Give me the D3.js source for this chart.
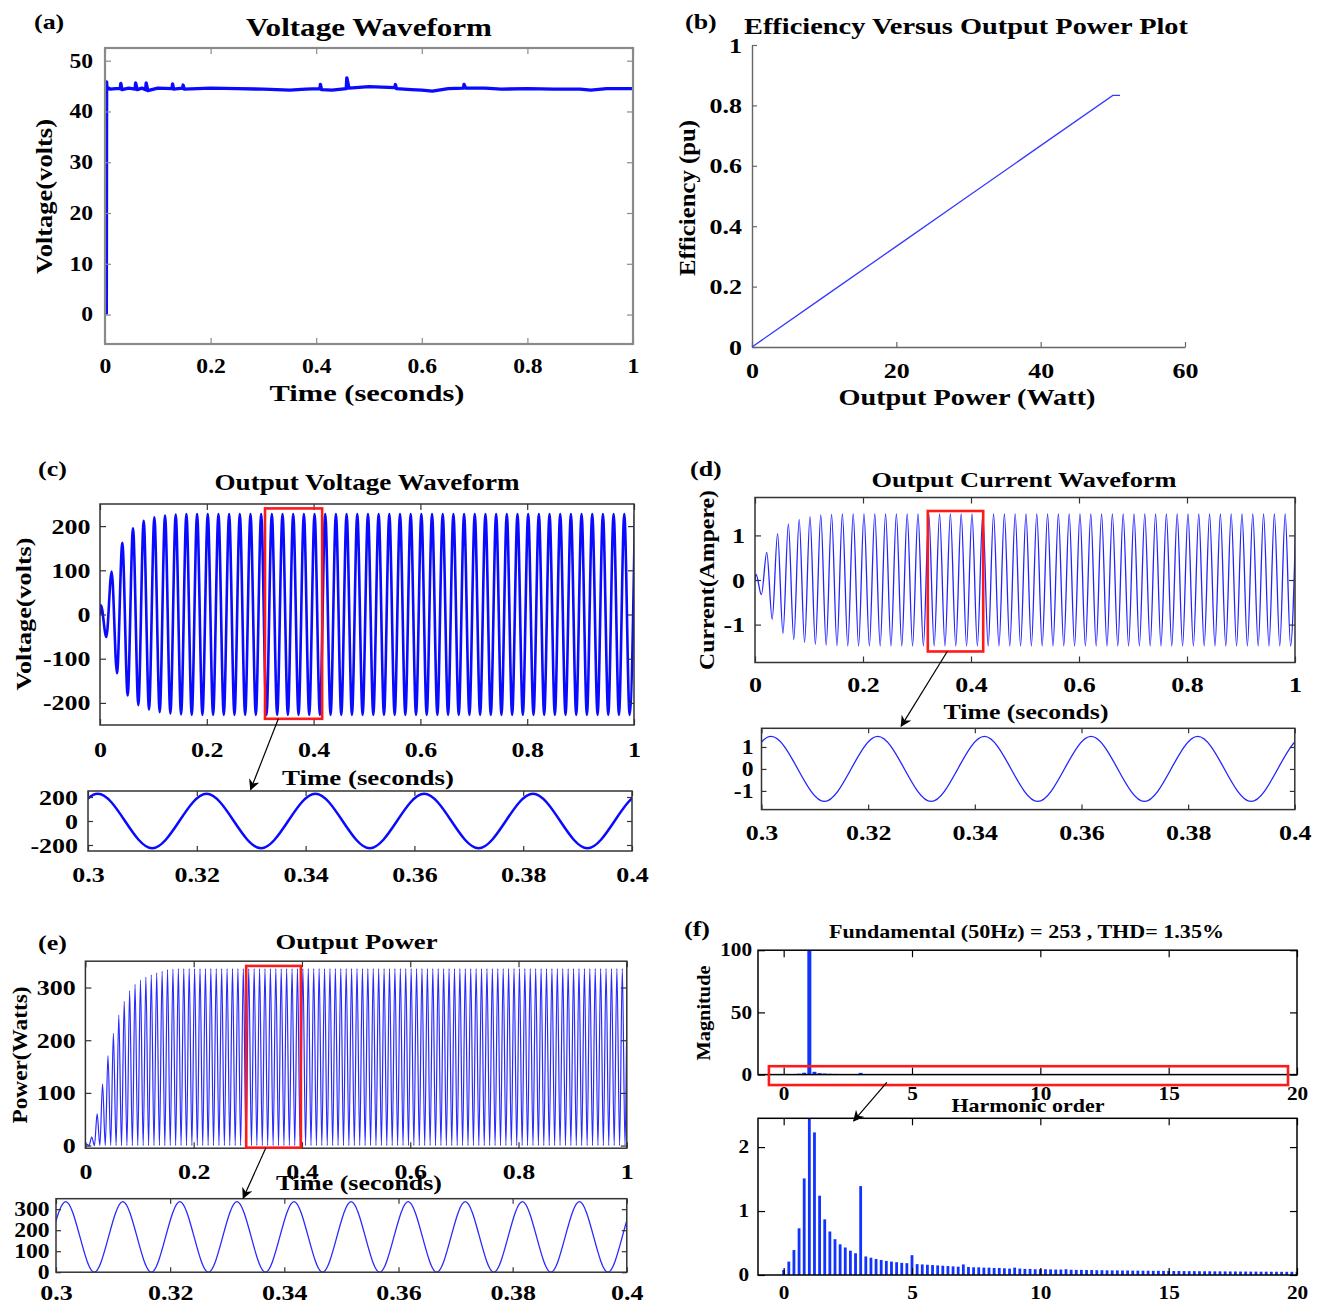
<!DOCTYPE html>
<html>
<head>
<meta charset="utf-8">
<script src="https://cdn.jsdelivr.net/npm/d3@7"></script>
<style>
  body { margin: 0; background: #fff; }
  svg text { font-family: "Liberation Serif", "Times New Roman", serif; font-weight: bold; fill: #000; }
</style>
</head>
<body>
<script>
var width = 1320, height = 1305;
var STRETCH = 1.18; // the figure's lettering is wider than plain Times

// (a) input (DC) voltage
var voltA_t = [0.0025, 0.003, 0.004, 0.006, 0.01, 0.02, 0.029, 0.03, 0.032, 0.045,
  0.057, 0.058, 0.061, 0.07, 0.077, 0.078, 0.081, 0.1, 0.127, 0.128,
  0.13, 0.147, 0.148, 0.15, 0.2, 0.25, 0.3, 0.35, 0.38, 0.407,
  0.408, 0.41, 0.43, 0.457, 0.458, 0.462, 0.5, 0.549, 0.55, 0.552,
  0.58, 0.6, 0.62, 0.65, 0.679, 0.68, 0.683, 0.72, 0.75, 0.8,
  0.85, 0.9, 0.92, 0.95, 1];
var voltA_v = [0, 45.8, 44.3, 44.6, 44.4, 44.5, 44.5, 45.5, 44.3, 44.6,
  44.4, 45.6, 44.3, 44.6, 44.3, 45.6, 44.1, 44.6, 44.5, 45.4,
  44.4, 44.6, 45.2, 44.4, 44.6, 44.5, 44.4, 44.2, 44.4, 44.5,
  45.3, 44.3, 44.2, 44.5, 46.6, 44.6, 44.9, 44.7, 45.3, 44.5,
  44.3, 44.2, 44.0, 44.5, 44.6, 45.3, 44.6, 44.6, 44.4, 44.5,
  44.4, 44.4, 44.2, 44.5, 44.5];

// (b) efficiency vs output power
var effPower = [0, 10, 20, 30, 40, 50, 51];
var effValue = [0, 0.1667, 0.3333, 0.5, 0.6667, 0.8333, 0.8333];

// (c) output voltage: successive half-cycle peaks (V), one every 10 ms from t = 1.8 ms
var voltExt = [21, -51, 97, -133, 162, -183, 195, -205, 212, -215,
  220, -221, 224, -224, 226, -226, 227, -227, 227, -227,
  227, -227, 227, -227, 227, -227, 227, -227, 227, -227,
  227, -227, 227, -227, 227, -227, 227, -227, 227, -227,
  227, -227, 227, -227, 227, -227, 227, -227, 227, -227,
  227, -227, 227, -227, 227, -227, 227, -227, 227, -227,
  227, -227, 227, -227, 227, -227, 227, -227, 227, -227,
  227, -227, 227, -227, 227, -227, 227, -227, 227, -227,
  227, -227, 227, -227, 227, -227, 227, -227, 227, -227,
  227, -227, 227, -227, 227, -227, 227, -227, 227, -227,
  227];

// (d) output current: half-cycle peaks (A), same timing
var currExt = [0.13, -0.33, 0.62, -0.88, 1.04, -1.2, 1.26, -1.34, 1.36, -1.4,
  1.42, -1.44, 1.46, -1.46, 1.47, -1.47, 1.48, -1.48, 1.48, -1.48,
  1.48, -1.48, 1.48, -1.48, 1.48, -1.48, 1.48, -1.48, 1.48, -1.48,
  1.48, -1.48, 1.48, -1.48, 1.48, -1.48, 1.48, -1.48, 1.48, -1.48,
  1.48, -1.48, 1.48, -1.48, 1.48, -1.48, 1.48, -1.48, 1.48, -1.48,
  1.48, -1.48, 1.48, -1.48, 1.48, -1.48, 1.48, -1.48, 1.48, -1.48,
  1.48, -1.48, 1.48, -1.48, 1.48, -1.48, 1.48, -1.48, 1.48, -1.48,
  1.48, -1.48, 1.48, -1.48, 1.48, -1.48, 1.48, -1.48, 1.48, -1.48,
  1.48, -1.48, 1.48, -1.48, 1.48, -1.48, 1.48, -1.48, 1.48, -1.48,
  1.48, -1.48, 1.48, -1.48, 1.48, -1.48, 1.48, -1.48, 1.48, -1.48,
  1.48];

// (e) output power: peak of each 10 ms cycle (W), troughs are 0
var powPeak = [3, 16, 60, 117, 171, 213, 248, 274, 294, 306,
  314, 320, 324, 328, 331, 334, 335, 336, 336, 336,
  336, 336, 336, 336, 336, 336, 336, 336, 336, 336,
  336, 336, 336, 336, 336, 336, 336, 336, 336, 336,
  336, 336, 336, 336, 336, 336, 336, 336, 336, 336,
  336, 336, 336, 336, 336, 336, 336, 336, 336, 336,
  336, 336, 336, 336, 336, 336, 336, 336, 336, 336,
  336, 336, 336, 336, 336, 336, 336, 336, 336, 336,
  336, 336, 336, 336, 336, 336, 336, 336, 336, 336,
  336, 336, 336, 336, 336, 336, 336, 336, 336, 336,
  336];
var powTrough = 0;

// (f) FFT spectrum, % of fundamental, orders 0, 0.2, ... 20
var harmMag = [0.08, 0.21, 0.39, 0.73, 1.51, 100, 2.23, 1.24, 0.87, 0.68,
  0.56, 0.48, 0.43, 0.38, 0.34, 1.39, 0.29, 0.27, 0.25, 0.235,
  0.22, 0.21, 0.2, 0.19, 0.185, 0.31, 0.17, 0.165, 0.16, 0.155,
  0.15, 0.145, 0.14, 0.135, 0.13, 0.165, 0.125, 0.12, 0.12, 0.115,
  0.115, 0.11, 0.11, 0.105, 0.1, 0.115, 0.1, 0.095, 0.095, 0.09,
  0.09, 0.09, 0.088, 0.085, 0.085, 0.09, 0.082, 0.08, 0.08, 0.078,
  0.078, 0.075, 0.075, 0.073, 0.072, 0.072, 0.07, 0.07, 0.068, 0.068,
  0.067, 0.066, 0.065, 0.065, 0.064, 0.064, 0.062, 0.062, 0.061, 0.06,
  0.06, 0.059, 0.058, 0.058, 0.057, 0.057, 0.056, 0.055, 0.055, 0.054,
  0.054, 0.053, 0.053, 0.052, 0.052, 0.051, 0.051, 0.05, 0.05, 0.05,
  0.05];
var harmOrder = d3.range(harmMag.length).map(function (i) { return i * 0.2; });

// tick labels
var timeTicks = [0, 0.2, 0.4, 0.6, 0.8, 1];
var zoomTicks = [0.3, 0.32, 0.34, 0.36, 0.38, 0.4];
var voltATicks = [0, 10, 20, 30, 40, 50];
var effXTicks = [0, 20, 40, 60];
var effYTicks = [0, 0.2, 0.4, 0.6, 0.8, 1];
var voltTicks = [-200, -100, 0, 100, 200];
var voltZoomTicks = [-200, 0, 200];
var currTicks = [-1, 0, 1];
var powTicks = [0, 100, 200, 300];
var harmTicks = [0, 5, 10, 15, 20];
var magTicks = [0, 50, 100];
var magZoomTicks = [0, 1, 2];

var svg = d3.select("body").append("svg").attr("width", width).attr("height", height);
svg.append("rect").attr("width", width).attr("height", height).attr("fill", "#fff");

svg.append("defs").append("marker")
    .attr("id", "arrow").attr("viewBox", "0 0 10 10")
    .attr("refX", 9).attr("refY", 5)
    .attr("markerWidth", 11).attr("markerHeight", 11)
    .attr("markerUnits", "userSpaceOnUse").attr("orient", "auto")
  .append("path").attr("d", "M0,0 L10,5 L0,10 L3,5 Z").attr("fill", "#000");

var fmt = function (d) { return String(Math.round(d * 1000) / 1000); };
var clipN = 0;

// MATLAB-like boxed axes with inward ticks on the four sides
function panel(o) {
  var g = svg.append("g").attr("transform", "translate(" + o.left + "," + o.top + ")");
  var x = d3.scaleLinear().domain(o.xDomain).range([0, o.w]);
  var y = d3.scaleLinear().domain(o.yDomain).range([o.h, 0]);
  var id = "clip" + (clipN++);
  g.append("clipPath").attr("id", id).append("rect").attr("width", o.w).attr("height", o.h);
  var plot = g.append("g").attr("clip-path", "url(#" + id + ")");
  var ts = o.tick || 6;
  var color = o.frame || "#333";

  var axB = g.append("g").attr("transform", "translate(0," + o.h + ")")
      .call(d3.axisBottom(x).tickValues(o.xTicks).tickFormat(fmt).tickSize(-ts));
  var axL = g.append("g")
      .call(d3.axisLeft(y).tickValues(o.yTicks).tickFormat(fmt).tickSize(-ts));
  g.append("g").call(d3.axisTop(x).tickValues(o.xTicks).tickFormat("").tickSize(-ts));
  g.append("g").attr("transform", "translate(" + o.w + ",0)")
      .call(d3.axisRight(y).tickValues(o.yTicks).tickFormat("").tickSize(-ts));
  g.selectAll(".domain").remove();
  g.selectAll(".tick line").attr("stroke", color).attr("stroke-width", 1.2);
  axB.selectAll("text").attr("y", o.xLab).attr("dy", null)
      .style("font-size", (o.fsX || o.fs) + "px");
  axL.selectAll("text").attr("x", -o.yPad)
      .style("font-size", (o.fsY || o.fs) + "px");
  g.append("rect").attr("width", o.w).attr("height", o.h).attr("fill", "none")
      .attr("stroke", color).attr("stroke-width", o.frameW || 1.5);
  return { g: g, x: x, y: y, plot: plot, o: o };
}

function addText(str, x, y, size, len, rotate, anchor) {
  var t = svg.append("text").text(str).style("font-size", size + "px")
      .attr("text-anchor", anchor || "middle");
  if (rotate) t.attr("transform", "translate(" + x + "," + y + ") rotate(-90)");
  else t.attr("x", x).attr("y", y);
  if (len) t.attr("textLength", len).attr("lengthAdjust", "spacingAndGlyphs").classed("fixed", true);
  return t;
}

function redBox(p, xs, ys) {
  p.g.append("rect")
      .attr("x", p.x(xs[0])).attr("y", p.y(ys[1]))
      .attr("width", p.x(xs[1]) - p.x(xs[0]))
      .attr("height", p.y(ys[0]) - p.y(ys[1]))
      .attr("fill", "none").attr("stroke", "#ff1a1a").attr("stroke-width", 2.6);
}

function arrow(pFrom, from, pTo, to) {
  svg.append("line")
      .attr("x1", pFrom.o.left + pFrom.x(from[0])).attr("y1", pFrom.o.top + pFrom.y(from[1]))
      .attr("x2", pTo.o.left + pTo.x(to[0])).attr("y2", pTo.o.top + pTo.y(to[1]))
      .attr("stroke", "#000").attr("stroke-width", 1.2)
      .attr("marker-end", "url(#arrow)");
}

function wave(p, data, color, w, curve) {
  p.plot.append("path").datum(data)
      .attr("fill", "none").attr("stroke", color).attr("stroke-width", w)
      .attr("stroke-linejoin", "round")
      .attr("d", d3.line()
          .x(function (d) { return p.x(d[0]); })
          .y(function (d) { return p.y(d[1]); })
          .curve(curve || d3.curveMonotoneX));
}

// series tables built from the arrays above
var voltA = voltA_t.map(function (t, i) { return [t, voltA_v[i]]; });
var voltSeries = [[0, 0]].concat(voltExt.map(function (v, i) { return [0.0018 + 0.01 * i, v]; }));
var currSeries = [[0, 0]].concat(currExt.map(function (v, i) { return [0.0018 + 0.01 * i, v]; }));
var powSeries = [[0, 0]];
powPeak.forEach(function (v, k) {
  powSeries.push([0.0017 + 0.01 * k, v]);
  powSeries.push([0.0067 + 0.01 * k, powTrough]);
});
var effSeries = effPower.map(function (p, i) { return [p, effValue[i]]; });
var harmData = harmOrder.map(function (h, i) { return { h: h, m: harmMag[i] }; });

// ---------- (a)
var pA = panel({ left: 105, top: 48, w: 528, h: 296, xDomain: [0, 1], yDomain: [-5.8, 52.5],
  xTicks: timeTicks, yTicks: voltATicks, fs: 20, xLab: 29, yPad: 12, frame: "#8a8a8a", frameW: 2.2 });
wave(pA, voltA, "#0a0aff", 3.4, d3.curveLinear);
addText("(a)", 34, 29, 22, null, false, "start");
addText("Voltage Waveform", 369, 36, 25, 246);
addText("Time (seconds)", 367, 401, 23, 195);
addText("Voltage(volts)", 52, 196.5, 23, 155, true);

// ---------- (b)
var bx = d3.scaleLinear().domain([0, 60]).range([752, 1185]);
var by = d3.scaleLinear().domain([0, 1]).range([347, 45]);
var gB = svg.append("g");
var bxAx = gB.append("g").attr("transform", "translate(0,347)")
    .call(d3.axisBottom(bx).tickValues(effXTicks).tickFormat(fmt).tickSize(-5).tickSizeOuter(0));
var byAx = gB.append("g").attr("transform", "translate(752,0)")
    .call(d3.axisLeft(by).tickValues(effYTicks).tickFormat(fmt).tickSize(-5).tickSizeOuter(0));
gB.selectAll(".domain").attr("stroke", "#666").attr("stroke-width", 1.4);
gB.selectAll(".tick line").attr("stroke", "#666").attr("stroke-width", 1.2);
bxAx.selectAll("text").attr("y", 31).attr("dy", null).style("font-size", "22px");
byAx.selectAll("text").attr("x", -10).style("font-size", "22px");
gB.append("path").datum(effSeries)
    .attr("fill", "none").attr("stroke", "#3a3aff").attr("stroke-width", 1.3)
    .attr("d", d3.line().x(function (d) { return bx(d[0]); }).y(function (d) { return by(d[1]); }));
addText("(b)", 685, 29, 22, null, false, "start");
addText("Efficiency Versus Output Power Plot", 966, 34, 23, 444);
addText("Output Power (Watt)", 967, 405, 23, 257);
addText("Efficiency (pu)", 695, 198, 23, 156, true);

// ---------- (c)
var pC = panel({ left: 100, top: 504, w: 534, h: 221, xDomain: [0, 1], yDomain: [-250, 250],
  xTicks: timeTicks, yTicks: voltTicks, fs: 22, xLab: 32, yPad: 9.5 });
wave(pC, voltSeries, "#0a0aff", 2.6);
var pCz = panel({ left: 88, top: 791, w: 544, h: 60, xDomain: [0.3, 0.4], yDomain: [-250, 250],
  xTicks: zoomTicks, yTicks: voltZoomTicks, fs: 22, xLab: 31, yPad: 10, tick: 5 });
wave(pCz, voltSeries, "#0a0aff", 2.5);
redBox(pC, [0.309, 0.416], [-236, 240]);
arrow(pC, [0.334, -236], pCz, [0.3299, 262]);
addText("(c)", 38, 476, 22, null, false, "start");
addText("Output Voltage Waveform", 367, 490, 23, 305);
addText("Time (seconds)", 368, 785, 22, 172);
addText("Voltage(volts)", 31, 614, 22, 153, true);

// ---------- (d)
var pD = panel({ left: 755, top: 497.5, w: 540, h: 165, xDomain: [0, 1], yDomain: [-1.85, 1.85],
  xTicks: timeTicks, yTicks: currTicks, fs: 22, xLab: 29, yPad: 10 });
wave(pD, currSeries, "#2424ff", 1.3);
var pDz = panel({ left: 761.5, top: 728.3, w: 533.3, h: 81.3, xDomain: [0.3, 0.4], yDomain: [-1.85, 1.85],
  xTicks: zoomTicks, yTicks: currTicks, fsX: 22, fsY: 20, xLab: 30, yPad: 8, tick: 5 });
wave(pDz, currSeries, "#2424ff", 1.3);
redBox(pD, [0.32, 0.4226], [-1.603, 1.547]);
arrow(pD, [0.356, -1.603], pDz, [0.3262, 1.95]);
addText("(d)", 690, 476, 22, null, false, "start");
addText("Output Current Waveform", 1024, 487, 22, 305);
addText("Time (seconds)", 1026, 719, 22, 165);
addText("Current(Ampere)", 714, 580, 22, 180, true);

// ---------- (e)
var pE = panel({ left: 85.4, top: 961.2, w: 541.4, h: 187, xDomain: [0, 1], yDomain: [-5, 350],
  xTicks: timeTicks, yTicks: powTicks, fs: 22, xLab: 31, yPad: 9.7 });
wave(pE, powSeries, "#2a2aff", 1.2);
var pEz = panel({ left: 56, top: 1198.7, w: 570.8, h: 73.5, xDomain: [0.3, 0.4], yDomain: [0, 350],
  xTicks: zoomTicks, yTicks: powTicks, fsX: 22, fsY: 20, xLab: 27.5, yPad: 6.4, tick: 5 });
wave(pEz, powSeries, "#2a2aff", 1.3);
redBox(pE, [0.297, 0.398], [-4, 341]);
arrow(pE, [0.3334, -4], pEz, [0.3328, 353]);
addText("(e)", 38, 950, 22, null, false, "start");
addText("Output Power", 356.5, 949, 22, 162);
addText("Time (seconds)", 359, 1190, 22, 166);
addText("Power(Watts)", 27, 1055, 21, 137, true);

// ---------- (f)
var pF1 = panel({ left: 758, top: 950.2, w: 539, h: 124.4, xDomain: [-1, 20], yDomain: [0, 100],
  xTicks: harmTicks, yTicks: magTicks, fs: 18, xLab: 25, yPad: 6, frame: "#000", tick: 7 });
pF1.plot.selectAll("rect").data(harmData).enter().append("rect")
    .attr("x", function (d) { return pF1.x(d.h) - 2; }).attr("width", 4)
    .attr("y", function (d) { return pF1.y(d.m); })
    .attr("height", function (d) { return pF1.y(0) - pF1.y(d.m); })
    .attr("fill", "#1133ff");
var pF2 = panel({ left: 758, top: 1118.3, w: 539, h: 156.7, xDomain: [-1, 20], yDomain: [0, 2.45],
  xTicks: harmTicks, yTicks: magZoomTicks, fs: 18, xLab: 24, yPad: 9, frame: "#000", tick: 7 });
pF2.plot.selectAll("rect").data(harmData).enter().append("rect")
    .attr("x", function (d) { return pF2.x(d.h) - 1.4; }).attr("width", 2.8)
    .attr("y", function (d) { return pF2.y(d.m); })
    .attr("height", function (d) { return pF2.y(0) - pF2.y(d.m); })
    .attr("fill", "#1133ff");
redBox(pF1, [-0.575, 19.65], [-8.4, 6.75]);
arrow(pF1, [4.02, -6.2], pF2, [2.73, 2.41]);
addText("(f)", 684, 936, 22, null, false, "start");
addText("Fundamental (50Hz) = 253 , THD= 1.35%", 1026.5, 938, 19, 395);
addText("Harmonic order", 1028, 1112, 19, 153);
addText("Magnitude", 710, 1013, 18, 95, true);

// widen the remaining lettering (tick labels, panel letters)
svg.selectAll("text").each(function () {
  if (this.classList.contains("fixed") || !this.textContent) return;
  var w = this.getComputedTextLength();
  this.setAttribute("textLength", w * STRETCH);
  this.setAttribute("lengthAdjust", "spacingAndGlyphs");
});
</script>
</body>
</html>
